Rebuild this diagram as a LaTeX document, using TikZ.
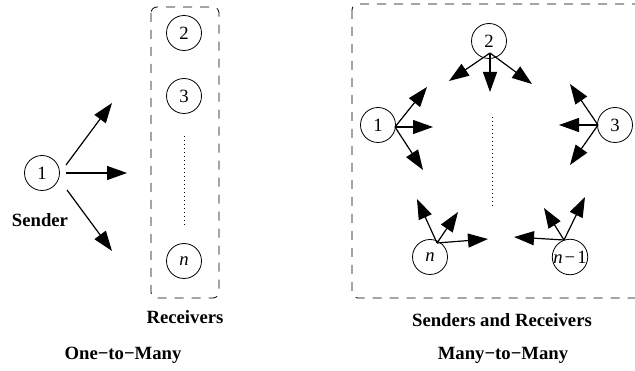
\documentclass[tikz,border=0pt]{standalone}
\usepackage{fontspec}
\setmainfont{Liberation Serif}
\usetikzlibrary{arrows.meta}
\tikzset{
  peer/.style={circle, draw, line width=0.8pt, minimum size=35pt, inner sep=0pt,
    font=\fontsize{18.7}{22}\selectfont},
  arr/.style={line width=1.2pt, -{Triangle[length=20pt,width=14pt]}},
  caption/.style={font=\fontsize{18.7}{22}\selectfont\bfseries, inner sep=0pt},
  groupbox/.style={line width=0.8pt, dash pattern=on 9pt off 8pt, rounded corners=6pt},
  gap/.style={line width=1pt, dash pattern=on 1pt off 3pt}
}
\begin{document}
\begin{tikzpicture}[x=1pt, y=-1pt]
\useasboundingbox (0,0) rectangle (635,371);
\clip (0,0) rectangle (635,371);

% ---------- one-to-many ----------
\node[peer] (s1) at (42,173) {1};
\node[peer] (r2) at (184,33) {2};
\node[peer] (r3) at (184,96) {3};
\node[peer] (rn) at (184,261) {\textit{n}};
\draw[gap] (r3.south |- 0,136) coordinate (ga) -- (184,226) coordinate (gb);
\draw[groupbox] (151,7) rectangle (219,298);

\coordinate (oa1) at (66,165);  \coordinate (ob1) at (112,103);
\coordinate (oa2) at (66,173);  \coordinate (ob2) at (127,173);
\coordinate (oa3) at (67,190);  \coordinate (ob3) at (112,251);
\draw[arr] (oa1) -- (ob1);
\draw[arr] (oa2) -- (ob2);
\draw[arr] (oa3) -- (ob3);

\node[caption] (lsend) at (40,220) {Sender};
\node[caption] (lrecv) at (185,317) {Receivers};
\node[caption] (lone) at (123,355) {One−to−Many};

% ---------- many-to-many ----------
\draw[groupbox] (352,4) rectangle (660,298);
\node[peer] (m1) at (378,125) {1};
\node[peer] (m2) at (489,41) {2};
\node[peer] (m3) at (615,125) {3};
\node[peer] (mn) at (430,257) {\textit{n}};
\node[peer] (mm) at (570,257) {\textit{n}\kern2pt−\kern2pt1};
\draw[gap] (492,117) coordinate (gc) -- (492,207) coordinate (gd);

% node 1
\coordinate (p1) at (395,127);
\coordinate (t11) at (427,87);
\coordinate (t12) at (433,127);
\coordinate (t13) at (423,170);
\draw[arr] (p1) -- (t11);
\draw[arr] (p1) -- (t12);
\draw[arr] (p1) -- (t13);

% node 2
\coordinate (p2) at (490,53);
\coordinate (t21) at (449,81);
\coordinate (t22) at (490,92);
\coordinate (t23) at (532,84);
\draw[arr] (p2) -- (t21);
\draw[arr] (p2) -- (t22);
\draw[arr] (p2) -- (t23);

% node 3
\coordinate (p3) at (598,125);
\coordinate (t31) at (570,84);
\coordinate (t32) at (559,125);
\coordinate (t33) at (570,165);
\draw[arr] (p3) -- (t31);
\draw[arr] (p3) -- (t32);
\draw[arr] (p3) -- (t33);

% node n
\coordinate (pn) at (437,243);
\coordinate (tn1) at (417,199);
\coordinate (tn2) at (458,212);
\coordinate (tn3) at (488,239);
\draw[arr] (pn) -- (tn1);
\draw[arr] (pn) -- (tn2);
\draw[arr] (pn) -- (tn3);

% node n-1
\coordinate (pm) at (564,240);
\coordinate (tm1) at (514,237);
\coordinate (tm2) at (544,208);
\coordinate (tm3) at (585,197);
\draw[arr] (pm) -- (tm1);
\draw[arr] (pm) -- (tm2);
\draw[arr] (pm) -- (tm3);

\node[caption] (lboth) at (502,320) {Senders and Receivers};
\node[caption] (lmany) at (503,355) {Many−to−Many};
\end{tikzpicture}
\end{document}
